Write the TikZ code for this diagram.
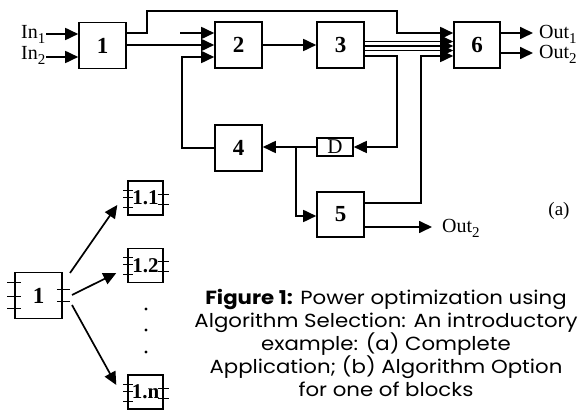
\documentclass[tikz,border=0pt]{standalone}
\usepackage{fontspec}
\setmainfont{Liberation Serif}
\newfontfamily\capfont[FakeStretch=1.12]{Poppins}
\usetikzlibrary{arrows.meta,calc}
\newcommand{\sbs}[1]{\raisebox{-0.45ex}{\fontsize{15}{15}\selectfont #1}}
\begin{document}
\begin{tikzpicture}[x=1pt,y=-1pt,
  blk/.style={draw, line width=1.6pt, minimum width=47pt, minimum height=46pt, inner sep=0pt, font=\fontsize{23}{23}\selectfont\bfseries},
  sblk/.style={draw, line width=1.4pt, minimum width=35pt, minimum height=34pt, inner sep=0pt, font=\fontsize{21}{21}\selectfont\bfseries},
  wire/.style={line width=1.7pt},
  tick/.style={line width=1.4pt},
  arr/.style={wire, -{Triangle[length=13pt,width=12pt]}},
  lbl/.style={font=\fontsize{20}{20}\selectfont, inner sep=0pt},
]
\fill[white] (0,0) rectangle (584,411);
\useasboundingbox (0,0) rectangle (584,411);

% (a) blocks
\node[blk] (b1) at (102.5,45.5) {1};
\node[blk] (b2) at (238.5,45) {2};
\node[blk] (b3) at (340.5,45) {3};
\node[blk, minimum width=46pt] (b6) at (477,45) {6};
\node[blk] (b4) at (238.5,148) {4};
\node[draw, line width=1.6pt, minimum width=36pt, minimum height=18pt, inner sep=0pt, font=\fontsize{21}{21}\selectfont] (D) at (335,147) {D};
\node[blk, minimum height=45pt] (b5) at (340.5,214.5) {5};

% inputs
\coordinate (i1) at (46,34);
\coordinate (i2) at (46,57);
\node[lbl, anchor=base west] (tin1) at (21,39) {In\sbs{1}};
\node[lbl, anchor=base west] (tin2) at (21,60) {In\sbs{2}};
\draw[arr] (i1) -- (b1.west |- i1);
\draw[arr] (i2) -- (b1.west |- i2);

% block 1 outputs
\draw[arr] (b1.east |- 0,33) -- (147,33) -- (147,11) -- (397,11) -- (397,33) -- (b6.west |- 0,33);
\draw[arr] (b1.east |- 0,45) -- (b2.west |- 0,45);

% block 2 inputs
\coordinate (s2) at (180,33);
\draw[arr] (s2) -- (b2.west |- s2);
\draw[arr] (b4.west) -- (182,148) -- (182,57) -- (b2.west |- 0,57);

% 2 -> 3
\draw[arr] (b2.east) -- (b3.west);

% 3 -> 6
\foreach \yy in {41.5,46,50.5} \draw[arr] (b3.east |- 0,\yy) -- (b6.west |- 0,\yy);

% 3 -> D -> 4
\draw[arr] (b3.east |- 0,56) -- (397,56) -- (397,147) -- (D.east);
\draw[arr] (D.west) -- (b4.east |- D.west);
\coordinate (br) at (296,147);
\draw[arr] (br) -- (296,216) -- (b5.west |- 0,216);

% 5 -> 6, 5 -> Out2
\draw[arr] (b5.east |- 0,203) -- (421,203) -- (421,56) -- (b6.west |- 0,56);
\coordinate (o3) at (432,227);
\draw[arr] (b5.east |- o3) -- (o3);
\node[lbl, anchor=base west] (tout3) at (442,233) {Out\sbs{2}};

% outputs of 6
\coordinate (o1) at (533,33);
\coordinate (o2) at (533,53);
\draw[arr] (b6.east |- o1) -- (o1);
\draw[arr] (b6.east |- o2) -- (o2);
\node[lbl, anchor=base west] (tout1) at (539,39) {Out\sbs{1}};
\node[lbl, anchor=base west] (tout2) at (539,59) {Out\sbs{2}};

\node[lbl, font=\fontsize{19}{19}\selectfont] (la) at (559,211) {(a)};

% (b) part
\node[blk] (c1) at (38.5,295.5) {1};
\foreach \dy in {11,25,37} \draw[tick] ($(c1.north west)+(-7,\dy)$) -- ++(14,0);
\foreach \dy in {18,30} \draw[tick] ($(c1.north east)+(-6,\dy)$) -- ++(13,0);

\node[sblk] (s1) at (145.5,198) {1.1};
\node[sblk] (s2b) at (145.5,265.5) {1.2};
\node[sblk] (sn) at (145.5,392) {1.n};
\foreach \n in {s1,s2b,sn} {
  \foreach \dy in {10,17,27} \draw[tick] ($(\n.north west)+(-4,\dy)$) -- ++(10,0);
  \foreach \dy in {14,24} \draw[tick] ($(\n.north east)+(-6,\dy)$) -- ++(11,0);
}
\coordinate (a1) at (70,273);
\coordinate (a2) at (72,295);
\coordinate (a3) at (72,305);
\draw[arr] (a1) -- ($(s1.west)+(-10,7)$);
\draw[arr] (a2) -- ($(s2b.west)+(-11,7.5)$);
\draw[arr] (a3) -- ($(sn.west)+(-11,-7)$);
\foreach \yy in {309,330,352} \fill (146,\yy) circle (1.7);

% caption
\node[align=center, font=\capfont\fontsize{19}{23}\selectfont, anchor=north, inner sep=0pt] (cap) at (386,289)
 {\textbf{Figure 1:} Power optimization using\\Algorithm Selection: An introductory\\example: (a) Complete\\Application; (b) Algorithm Option\\for one of blocks};
\end{tikzpicture}
\end{document}
